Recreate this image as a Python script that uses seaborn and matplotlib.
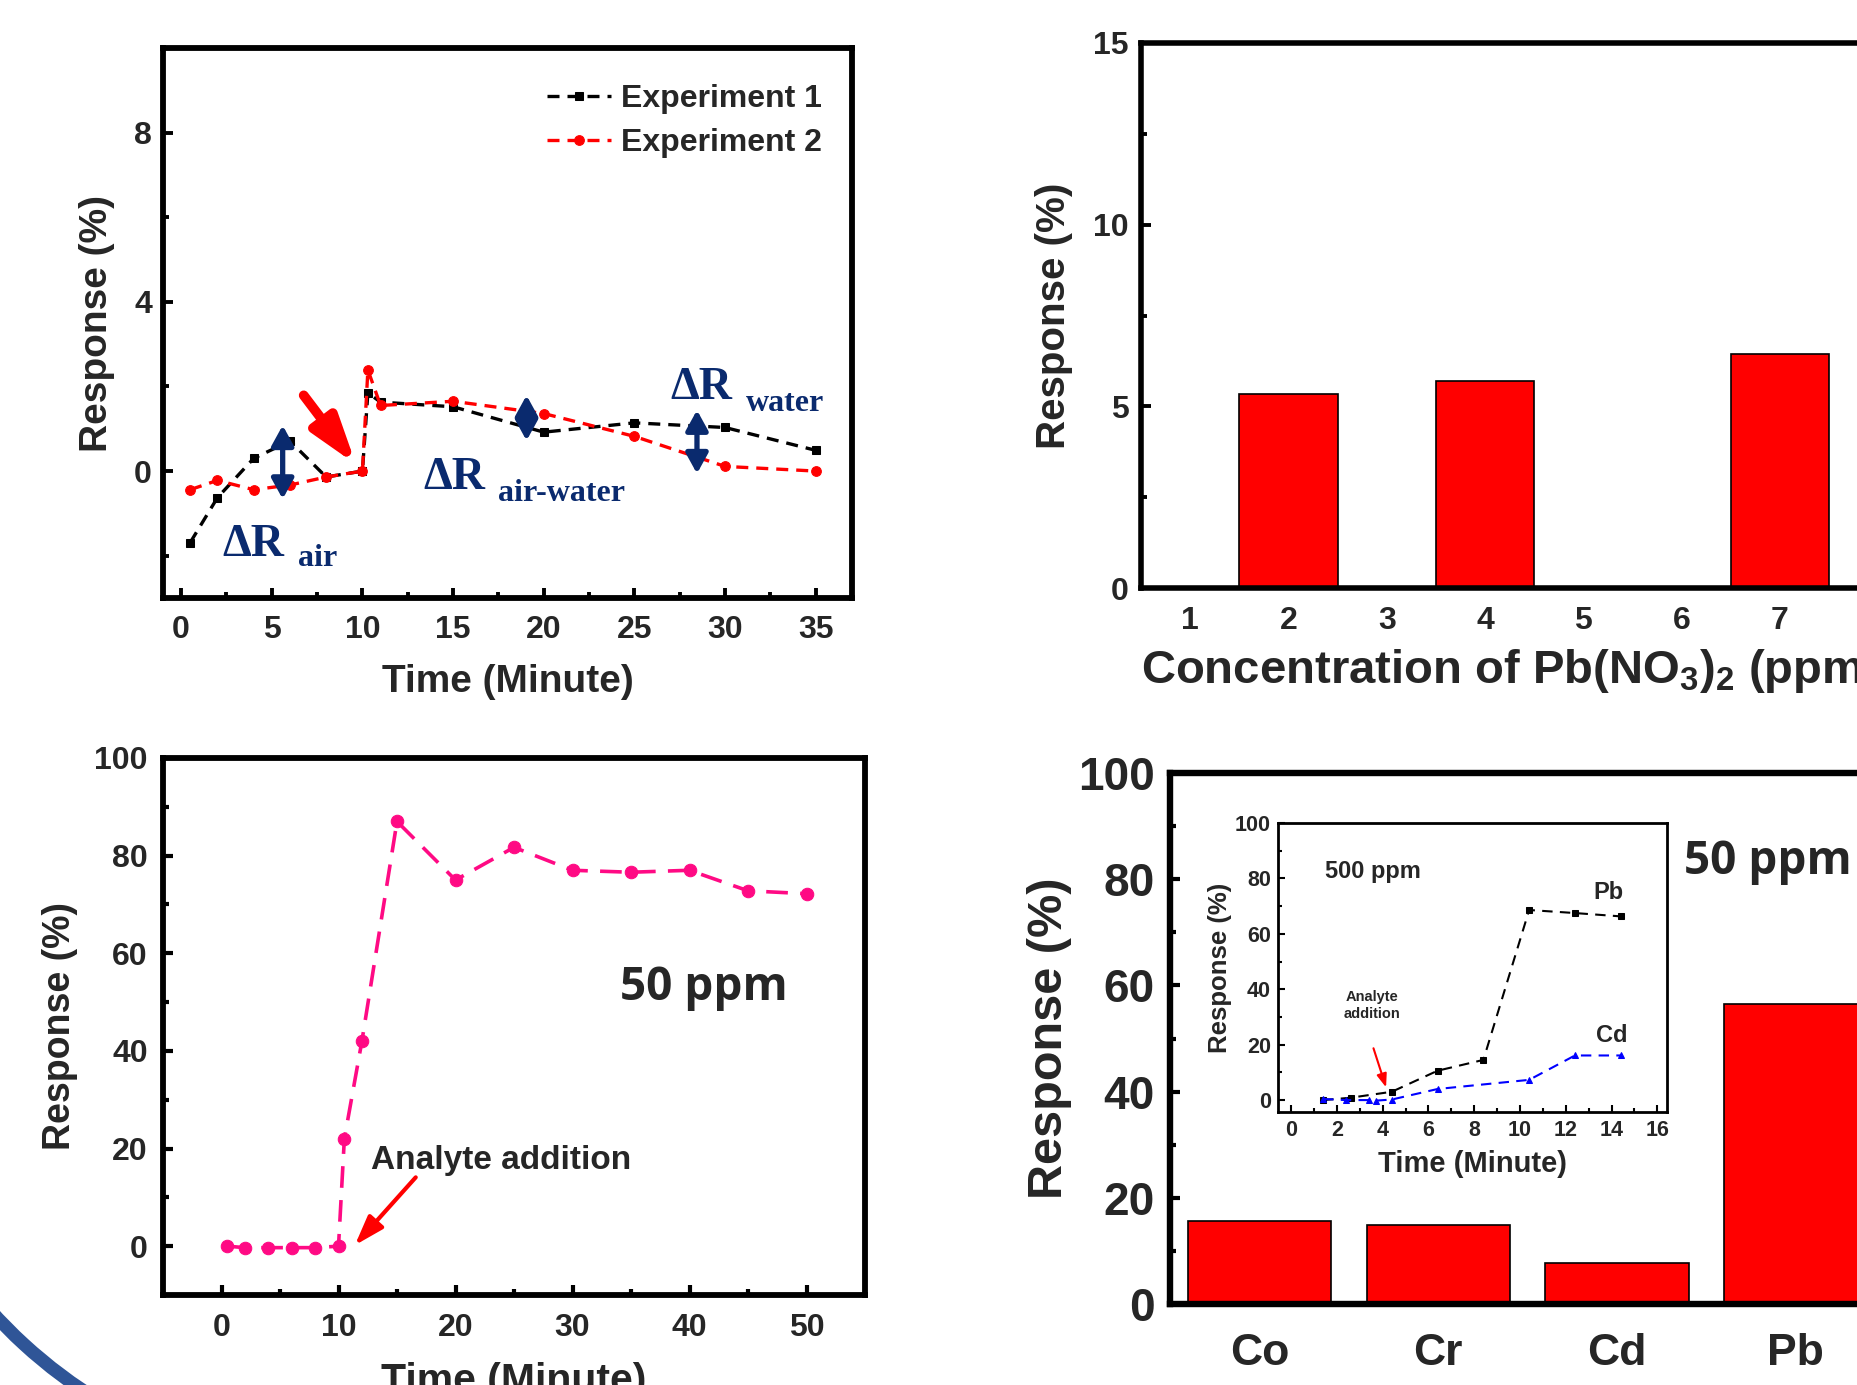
import matplotlib
matplotlib.use('Agg')
import matplotlib.pyplot as plt
import seaborn as sns
from matplotlib.patches import Arc
from matplotlib.transforms import IdentityTransform
from matplotlib.ticker import MultipleLocator

# (a) baseline response in water, two runs
t_exp = [0.5, 2, 4, 6, 8, 10, 10.3, 11, 15, 20, 25, 30, 35]
resp_exp1 = [-1.69, -0.63, 0.30, 0.71, -0.14, 0.0, 1.85, 1.63, 1.52, 0.92, 1.14, 1.03, 0.49]
resp_exp2 = [-0.44, -0.22, -0.44, -0.33, -0.14, 0.0, 2.39, 1.55, 1.65, 1.36, 0.82, 0.11, 0.0]

# (b) response vs Pb(NO3)2 concentration
conc_pb = [2, 4, 7]
resp_conc = [5.34, 5.69, 6.43]
conc_ticks = [1, 2, 3, 4, 5, 6, 7, 8, 9]

# (c) time response, 50 ppm
t_50 = [0.5, 2, 4, 6, 8, 10, 10.5, 12, 15, 20, 25, 30, 35, 40, 45, 50]
resp_50 = [0, -0.3, -0.3, -0.3, -0.3, 0, 22, 42, 87, 75, 81.7, 77, 76.6, 77, 72.8, 72.2]

# (d) selectivity, 50 ppm
metals = ['Co', 'Cr', 'Cd', 'Pb']
resp_metal = [15.6, 14.8, 7.75, 56.5]

# inset of (d), 500 ppm
t_pb = [1.4, 2.6, 4.4, 6.4, 8.4, 10.4, 12.4, 14.4]
resp_pb = [0, 0.85, 3.0, 10.6, 14.5, 68.6, 67.5, 66.3]
t_cd = [1.4, 2.4, 3.4, 3.7, 4.4, 6.4, 10.4, 12.4, 14.4]
resp_cd = [0.4, 0, 0, -0.2, 0.2, 4.0, 7.3, 16.1, 16.1]

navy = '#0a2a6e'
red = '#ff0000'
pink = '#ff0a84'

sns.set_style('ticks')
plt.rcParams['font.family'] = ['Liberation Sans', 'DejaVu Sans']
plt.rcParams['font.weight'] = 'bold'
plt.rcParams['axes.labelweight'] = 'bold'
plt.rcParams['mathtext.fontset'] = 'custom'
plt.rcParams['mathtext.rm'] = 'Liberation Sans:bold'
plt.rcParams['mathtext.bf'] = 'Liberation Sans:bold'
plt.rcParams['mathtext.default'] = 'bf'
serif = ['Liberation Serif', 'DejaVu Serif']

W, H = 1857, 1385
fig = plt.figure(figsize=(W / 100, H / 100), dpi=100)


def rect(l, t, r, b):
    return [l / W, 1 - b / H, (r - l) / W, (b - t) / H]


def style(ax, spine_w, tick_w, major, minor, size, xpad, ypad):
    for s in ax.spines.values():
        s.set_visible(True)
        s.set_linewidth(spine_w)
        s.set_color('black')
    ax.tick_params(which='both', direction='in', top=False, right=False,
                   left=True, bottom=True, width=tick_w, labelsize=size, color='black')
    ax.tick_params(which='major', length=major)
    ax.tick_params(which='minor', length=minor)
    ax.tick_params(axis='x', pad=xpad)
    ax.tick_params(axis='y', pad=ypad)


def arrow(ax, start, end, style_str, color, lw, scale=20):
    ax.annotate('', xy=end, xytext=start,
                arrowprops=dict(arrowstyle=style_str, color=color, lw=lw,
                                mutation_scale=scale, shrinkA=0, shrinkB=0))


# ---------------- top left ----------------
ax1 = fig.add_axes(rect(163, 48, 852, 598))
line_kw = dict(linewidth=2.4, errorbar=None, ax=ax1)
sns.lineplot(x=t_exp, y=resp_exp1, color='black', marker='s', markersize=6,
             markeredgecolor='black', linestyle=(0, (3.6, 2.4)), label='Experiment 1', **line_kw)
sns.lineplot(x=t_exp, y=resp_exp2, color=red, marker='o', markersize=7,
             markeredgecolor=red, linestyle=(0, (3.6, 2.4)), label='Experiment 2', **line_kw)
ax1.set_xlim(-1, 37)
ax1.set_ylim(-3, 10)
ax1.xaxis.set_major_locator(MultipleLocator(5))
ax1.xaxis.set_minor_locator(MultipleLocator(2.5))
ax1.yaxis.set_major_locator(MultipleLocator(4))
ax1.yaxis.set_minor_locator(MultipleLocator(2))
style(ax1, 4.2, 2.8, 7, 4.5, 23, 12, 8)
ax1.set_xlabel('Time (Minute)', fontsize=28, labelpad=14)
ax1.set_ylabel('Response (%)', fontsize=28, labelpad=14)
ax1.legend(loc='upper right', bbox_to_anchor=(0.956, 0.935), frameon=False, fontsize=23,
           handlelength=2.0, handletextpad=0.3, labelspacing=0.45, borderpad=0, borderaxespad=0)

# double arrows marking the response steps
for x, y0, y1 in [(5.6, -0.66, 1.08), (19.05, 0.72, 1.79), (28.45, -0.06, 1.44)]:
    arrow(ax1, (x, y0), (x, y1), '<|-|>,head_length=0.6,head_width=0.33', navy, 3.8)
arrow(ax1, (6.76, 1.79), (9.64, 0.16), '-|>,head_length=1.4,head_width=0.45', red, 7)

for x, y, s, fs in [(2.25, -2.0, 'ΔR', 33), (6.47, -2.24, 'air', 23),
                    (13.36, -0.42, 'ΔR', 33), (17.5, -0.70, 'air-water', 23),
                    (26.98, 1.71, 'ΔR', 33), (31.17, 1.42, 'water', 23)]:
    ax1.text(x, y, s, fontsize=fs, family=serif, weight='bold', color=navy, va='baseline')

# ---------------- top right ----------------
ax2 = fig.add_axes(rect(1141, 43, 1141 + 9 * 98.3, 588))
sns.barplot(x=conc_pb, y=resp_conc, native_scale=True, width=0.5, color=red, saturation=1,
            edgecolor='black', linewidth=1.2, errorbar=None, ax=ax2)
ax2.set_xlim(0.5, 9.5)
ax2.set_ylim(0, 15)
ax2.set_xticks(conc_ticks)
ax2.set_xticklabels([str(c) for c in conc_ticks])
ax2.yaxis.set_major_locator(MultipleLocator(5))
ax2.yaxis.set_minor_locator(MultipleLocator(2.5))
style(ax2, 4.0, 2.8, 7, 4.5, 23, 13, 9)
ax2.tick_params(axis='x', which='both', length=0)
ax2.set_xlabel('Concentration of Pb(NO$_3$)$_2$ (ppm)', fontsize=34, loc='left', labelpad=8)
ax2.set_ylabel('Response (%)', fontsize=29, labelpad=14)

# ---------------- bottom left ----------------
ax3 = fig.add_axes(rect(163, 758, 865, 1295))
sns.lineplot(x=t_50, y=resp_50, color=pink, marker='o', markersize=9, markeredgecolor=pink,
             linewidth=2.6, linestyle=(0, (6, 3.4)), errorbar=None, ax=ax3)
ax3.set_xlim(-5, 55)
ax3.set_ylim(-10, 100)
ax3.xaxis.set_major_locator(MultipleLocator(10))
ax3.xaxis.set_minor_locator(MultipleLocator(5))
ax3.yaxis.set_major_locator(MultipleLocator(20))
ax3.yaxis.set_minor_locator(MultipleLocator(10))
style(ax3, 4.2, 3.0, 7, 4.5, 23, 13, 11)
ax3.set_xlabel('Time (Minute)', fontsize=29.5, labelpad=14)
ax3.set_ylabel('Response (%)', fontsize=27, labelpad=12)
ax3.text(12.8, 15.9, 'Analyte addition', fontsize=24, va='baseline')
arrow(ax3, (16.6, 14.1), (11.4, 0.2), '-|>,head_length=0.9,head_width=0.3', red, 3)
ax3.text(34.1, 50.5, '50 ppm', fontsize=33, family=['Open Sans', 'DejaVu Sans'],
         weight='bold', va='baseline')

# ---------------- bottom right ----------------
ax4 = fig.add_axes(rect(1170, 773, 1170 + 5 * 178.8, 1304))
sns.barplot(x=metals, y=resp_metal, order=metals, width=0.8, color=red, saturation=1,
            edgecolor='black', linewidth=1.2, errorbar=None, ax=ax4)
ax4.set_xlim(-0.5, 4.5)
ax4.set_ylim(0, 100)
ax4.yaxis.set_major_locator(MultipleLocator(20))
ax4.yaxis.set_minor_locator(MultipleLocator(10))
style(ax4, 4.6, 3.0, 7, 4.5, 33, 21, 11)
ax4.tick_params(axis='x', which='both', length=0, labelsize=32)
ax4.set_xlabel('')
ax4.set_ylabel('Response (%)', fontsize=35, labelpad=4)
ax4.text(2.375, 81, '50 ppm', fontsize=33, family=['Open Sans', 'DejaVu Sans'],
         weight='bold', va='baseline')

# inset
ax5 = fig.add_axes(rect(1278, 823, 1667, 1112), zorder=5)
ax5.set_facecolor('white')
sns.lineplot(x=t_pb, y=resp_pb, color='black', marker='s', markersize=4, markeredgecolor='black',
             linewidth=1.5, linestyle=(0, (5, 3.5)), errorbar=None, ax=ax5)
sns.lineplot(x=t_cd, y=resp_cd, color='#0000ff', marker='^', markersize=5, markeredgecolor='#0000ff',
             linewidth=1.5, linestyle=(0, (5, 3.5)), errorbar=None, ax=ax5)
ax5.set_xlim(-0.57, 16.42)
ax5.set_ylim(-4.3, 100)
ax5.xaxis.set_major_locator(MultipleLocator(2))
ax5.xaxis.set_minor_locator(MultipleLocator(1))
ax5.yaxis.set_major_locator(MultipleLocator(20))
ax5.yaxis.set_minor_locator(MultipleLocator(10))
style(ax5, 2.0, 1.5, 5, 3, 15.5, 6, 5)
ax5.set_xlabel('Time (Minute)', fontsize=21, labelpad=6)
ax5.set_ylabel('Response (%)', fontsize=18.5, labelpad=2)
ax5.text(1.48, 80, '500 ppm', fontsize=17, va='baseline')
ax5.text(13.2, 72.5, 'Pb', fontsize=17, va='baseline')
ax5.text(13.3, 20.8, 'Cd', fontsize=17, va='baseline')
ax5.text(3.55, 29.6, 'Analyte\naddition', fontsize=10.5, ha='center', va='baseline',
         linespacing=1.25)
arrow(ax5, (3.6, 18.7), (4.15, 4.6), '-|>,head_length=0.8,head_width=0.3', red, 1.5, 10)

# slide decoration: blue arc in the lower left corner
fig.add_artist(Arc((355, 402), 980, 980, theta1=205, theta2=250, lw=9.5,
                   color='#2f5597', transform=IdentityTransform()))

fig.savefig('out.png', dpi=100, facecolor='white')
